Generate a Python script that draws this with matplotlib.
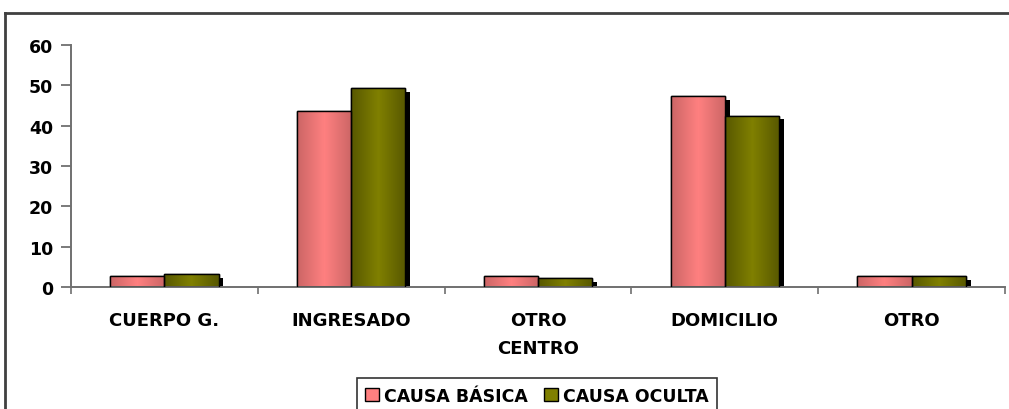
import numpy as np
import matplotlib
matplotlib.use("Agg")
import matplotlib.pyplot as plt
from matplotlib.lines import Line2D
from matplotlib.patches import Patch
from matplotlib.colors import LinearSegmentedColormap
import matplotlib.patheffects as pe

categories = ["CUERPO G.", "INGRESADO", "OTRO\nCENTRO", "DOMICILIO", "OTRO"]
causa_basica = [2.7, 43.6, 2.7, 47.3, 2.7]
causa_oculta = [3.2, 49.3, 2.2, 42.4, 2.7]
series_names = ["CAUSA BÁSICA", "CAUSA OCULTA"]

plt.rcParams['font.family'] = ['DejaVu Sans']
plt.rcParams['font.weight'] = 'bold'

fig = plt.figure(figsize=(10.09, 4.10), dpi=100)
ax = fig.add_axes([71 / 1009, 122 / 410, (1005 - 71) / 1009, 242 / 410])

x = np.arange(len(categories))
w = 0.29

# edge-dark / centre-light gradients like the old spreadsheet bars
pink_cmap = LinearSegmentedColormap.from_list("p", ["#cc6666", "#ff8080", "#cc6666"])
olive_cmap = LinearSegmentedColormap.from_list("o", ["#585800", "#808000", "#585800"])
grad = np.linspace(0, 1, 64).reshape(1, -1)

shadow = [pe.SimplePatchShadow(offset=(3.5, -2.5), shadow_rgbFace='black', alpha=1.0), pe.Normal()]

b1 = ax.bar(x - w / 2, causa_basica, w, color="#ff8080", edgecolor="black", linewidth=1.0,
            path_effects=shadow, zorder=2, label=series_names[0])
b2 = ax.bar(x + w / 2, causa_oculta, w, color="#808000", edgecolor="black", linewidth=1.0,
            path_effects=shadow, zorder=2, label=series_names[1])

for bars, cmap in ((b1, pink_cmap), (b2, olive_cmap)):
    for r in bars:
        x0, y0 = r.get_x(), r.get_y()
        im = ax.imshow(grad, cmap=cmap, aspect='auto', zorder=2.5,
                       extent=(x0, x0 + r.get_width(), y0, y0 + r.get_height()))
        im.set_clip_path(r)
        # redraw outline on top
        ax.add_patch(plt.Rectangle((x0, y0), r.get_width(), r.get_height(),
                                   fill=False, edgecolor="black", linewidth=1.0, zorder=3))

ax.set_xlim(-0.5, len(categories) - 0.5)
ax.set_ylim(0, 60)
ax.set_yticks(range(0, 61, 10))

ax.set_xticks(x)
ax.set_xticklabels(categories, fontsize=13, fontweight='bold', linespacing=1.75)
ax.set_xticks(np.arange(-0.5, len(categories), 1.0), minor=True)
ax.tick_params(axis='x', which='major', length=0, pad=17)
ax.tick_params(axis='x', which='minor', length=5, width=1.2, color="#707070", direction='out')
ax.tick_params(axis='y', length=7, width=1.3, color="#707070", labelsize=12.5, pad=6)
for lab in ax.get_yticklabels():
    lab.set_fontweight('bold')

for s in ('top', 'right'):
    ax.spines[s].set_visible(False)
for s in ('left', 'bottom'):
    ax.spines[s].set_color("#707070")
    ax.spines[s].set_linewidth(1.4)

handles = [Patch(facecolor="#ff8080", edgecolor="black"), Patch(facecolor="#808000", edgecolor="black")]
leg = fig.legend(handles, series_names, loc='upper center', bbox_to_anchor=(537 / 1009, 1 - 379 / 410),
                 bbox_transform=fig.transFigure, ncol=2, frameon=True, fancybox=False,
                 prop={'size': 12.5, 'weight': 'bold'}, handlelength=0.8, handleheight=0.8,
                 handletextpad=0.3, columnspacing=0.9, borderpad=0.5, borderaxespad=0)
leg.get_frame().set_edgecolor("black")
leg.get_frame().set_linewidth(1.2)

# outer frame: only top and left edges visible in the crop
fig.add_artist(Line2D([5 / 1009, 1.0], [1 - 14 / 410, 1 - 14 / 410], color="#404040", linewidth=2,
                      transform=fig.transFigure))
fig.add_artist(Line2D([5 / 1009, 5 / 1009], [0, 1 - 14 / 410], color="#404040", linewidth=2,
                      transform=fig.transFigure))

fig.savefig("out.png", dpi=100)
